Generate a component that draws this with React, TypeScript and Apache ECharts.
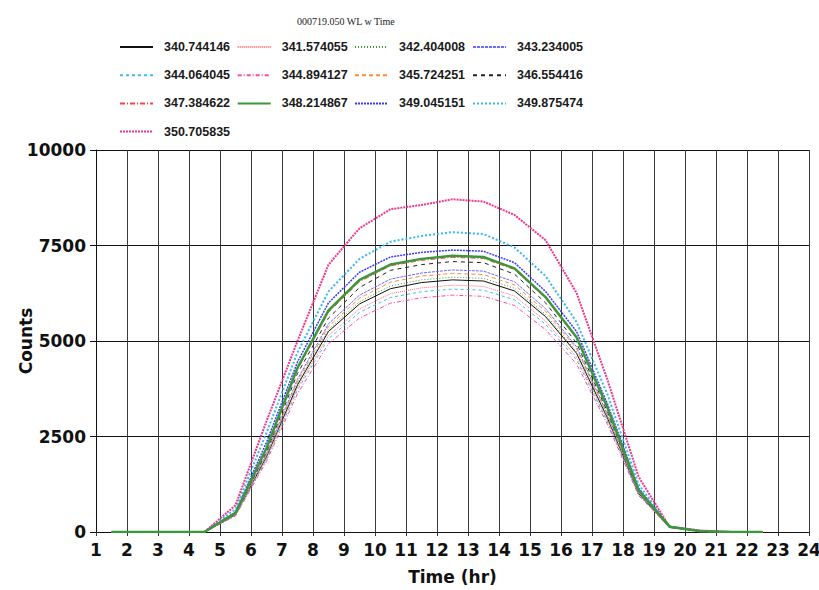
import React, { useEffect, useRef } from "react";
import * as echarts from "echarts";

const hours = [1.5, 2.5, 3.5, 4.5, 5.5, 6.5, 7.5, 8.5, 9.5, 10.5, 11.5, 12.5, 13.5, 14.5, 15.5, 16.5, 17.5, 18.5, 19.5, 20.5, 21.5, 22.5];

const seriesNames = [
  "340.744146", "341.574055", "342.404008", "343.234005",
  "344.064045", "344.894127", "345.724251", "346.554416",
  "347.384622", "348.214867", "349.045151", "349.875474",
  "350.705835",
];

const s340_744146 = [0, 0, 0, 0, 450, 1970, 3850, 5250, 5970, 6370, 6530, 6600, 6570, 6310, 5640, 4680, 2980, 1010, 120, 20, 0, 0];
const s341_574055 = [0, 0, 0, 0, 440, 1930, 3780, 5140, 5840, 6240, 6390, 6460, 6430, 6180, 5520, 4580, 2920, 990, 120, 20, 0, 0];
const s342_404008 = [0, 0, 0, 0, 450, 1990, 3900, 5300, 6030, 6440, 6600, 6670, 6640, 6380, 5700, 4720, 3000, 1020, 130, 20, 0, 0];
const s343_234005 = [0, 0, 0, 0, 470, 2050, 4000, 5450, 6200, 6620, 6780, 6860, 6830, 6550, 5850, 4850, 3080, 1050, 130, 20, 0, 0];
const s344_064045 = [0, 0, 0, 0, 430, 1900, 3720, 5060, 5750, 6140, 6290, 6360, 6330, 6080, 5440, 4510, 2880, 980, 120, 20, 0, 0];
const s344_894127 = [0, 0, 0, 0, 420, 1850, 3620, 4930, 5600, 5990, 6130, 6200, 6170, 5930, 5300, 4400, 2820, 960, 120, 20, 0, 0];
const s345_724251 = [0, 0, 0, 0, 460, 2020, 3950, 5380, 6120, 6540, 6700, 6770, 6740, 6470, 5780, 4800, 3050, 1040, 130, 20, 0, 0];
const s346_554416 = [0, 0, 0, 0, 480, 2100, 4150, 5600, 6400, 6850, 7000, 7080, 7050, 6750, 6000, 4950, 3150, 1070, 130, 20, 0, 0];
const s347_384622 = [0, 0, 0, 0, 490, 2150, 4250, 5750, 6550, 6970, 7110, 7190, 7160, 6870, 6120, 5080, 3230, 1090, 140, 20, 0, 0];
const s348_214867 = [0, 0, 0, 0, 500, 2200, 4300, 5800, 6600, 7000, 7150, 7230, 7200, 6900, 6150, 5100, 3250, 1100, 140, 20, 0, 0];
const s349_045151 = [0, 0, 0, 0, 520, 2350, 4450, 6000, 6800, 7200, 7320, 7380, 7350, 7050, 6300, 5250, 3350, 1150, 140, 25, 0, 0];
const s349_875474 = [0, 0, 0, 0, 600, 2600, 4700, 6300, 7150, 7600, 7750, 7850, 7800, 7450, 6700, 5500, 3600, 1250, 150, 30, 0, 0];
const s350_705835 = [0, 0, 0, 0, 700, 2900, 5000, 7000, 7950, 8450, 8560, 8710, 8650, 8300, 7640, 6260, 3980, 1450, 140, 40, 0, 0];

const seriesValues = [
  s340_744146, s341_574055, s342_404008, s343_234005,
  s344_064045, s344_894127, s345_724251, s346_554416,
  s347_384622, s348_214867, s349_045151, s349_875474,
  s350_705835,
];

const yTicks = [0, 2500, 5000, 7500, 10000];

const styles: { color: string; width: number; type: any }[] = [
  { color: "#111111", width: 1, type: "solid" },
  { color: "#ff6f6f", width: 1, type: [1, 1] },
  { color: "#3a9a3a", width: 1, type: [1, 2] },
  { color: "#6a6aff", width: 1, type: [3, 1] },
  { color: "#3cbcf0", width: 1, type: [3, 3] },
  { color: "#ff4aa5", width: 1, type: [4, 2, 1, 2] },
  { color: "#ff8a3a", width: 1, type: [4, 3] },
  { color: "#222222", width: 1, type: [4, 4] },
  { color: "#ff4040", width: 1, type: [5, 2, 1, 2] },
  { color: "#3c963c", width: 2.5, type: "solid" },
  { color: "#3a3aff", width: 1.5, type: [2, 1] },
  { color: "#38b6f5", width: 2, type: [2, 2] },
  { color: "#f0378f", width: 2, type: [2, 1] },
];

const FONT = "DejaVu Sans";

export default function App() {
  const ref = useRef<HTMLDivElement>(null);
  useEffect(() => {
    document.body.style.margin = "0";
    const chart = echarts.init(ref.current!, null, { renderer: "svg" });
    const cols = [119, 236.7, 354, 472];
    const legends = cols.map((x, c) => ({
      orient: "vertical",
      left: x,
      top: 40.5,
      padding: 0,
      itemWidth: 33,
      itemHeight: 12,
      itemGap: 15.2,
      itemStyle: { opacity: 0, color: "transparent", borderWidth: 0 },
      data: seriesNames.filter((_, i) => i % 4 === c),
      textStyle: {
        fontFamily: "Liberation Sans",
        fontWeight: "bold",
        fontSize: 12.5,
        color: "#1a1a1a",
        padding: [0, 0, 0, 6],
      },
    }));
    chart.setOption({
      animation: false,
      backgroundColor: "#ffffff",
      title: {
        text: "000719.050 WL w Time",
        left: 297,
        top: 16,
        padding: 0,
        textStyle: { fontFamily: "Liberation Serif", fontSize: 10, fontWeight: "normal", color: "#222" },
      },
      legend: legends,
      grid: { left: 96, right: 10, top: 150, bottom: 58, outerBoundsMode: "none", containLabel: false },
      xAxis: {
        type: "value",
        min: 1,
        max: 24,
        interval: 1,
        name: "Time (hr)",
        nameLocation: "middle",
        nameGap: 36,
        nameMoveOverlap: false,
        nameTextStyle: { fontFamily: FONT, fontWeight: "bold", fontSize: 17, color: "#111" },
        axisLine: { show: true, lineStyle: { color: "#111", width: 1 } },
        axisTick: { show: true, length: 4, lineStyle: { color: "#333" } },
        axisLabel: { fontFamily: FONT, fontWeight: "bold", fontSize: 17, color: "#111", margin: 9 },
        splitLine: { show: true, lineStyle: { color: "#3a3a3a", width: 1 } },
      },
      yAxis: {
        type: "value",
        min: 0,
        max: 10000,
        interval: 2500,
        name: "Counts",
        nameLocation: "middle",
        nameGap: 62,
        nameMoveOverlap: false,
        nameTextStyle: { fontFamily: FONT, fontWeight: "bold", fontSize: 17, color: "#111" },
        axisLine: { show: true, lineStyle: { color: "#111", width: 1 } },
        axisTick: { show: true, length: 6, inside: false, lineStyle: { color: "#111" } },
        axisLabel: {
          fontFamily: FONT,
          fontWeight: "bold",
          fontSize: 17,
          color: "#111",
          margin: 10,
          formatter: (v: number) => (yTicks.includes(v) ? String(v) : ""),
        },
        splitLine: { show: true, lineStyle: { color: "#111", width: 1 } },
      },
      series: seriesNames.map((name, i) => ({
        name,
        type: "line",
        symbol: "none",
        showSymbol: false,
        color: styles[i].color,
        lineStyle: { color: styles[i].color, width: styles[i].width, type: styles[i].type },
        data: hours.map((h, k) => [h, seriesValues[i][k]]),
        z: i === 9 ? 5 : 3,
      })),
    });
    return () => chart.dispose();
  }, []);
  return <div ref={ref} style={{ position: "absolute", left: 0, top: 0, width: 819, height: 590 }} />;
}
